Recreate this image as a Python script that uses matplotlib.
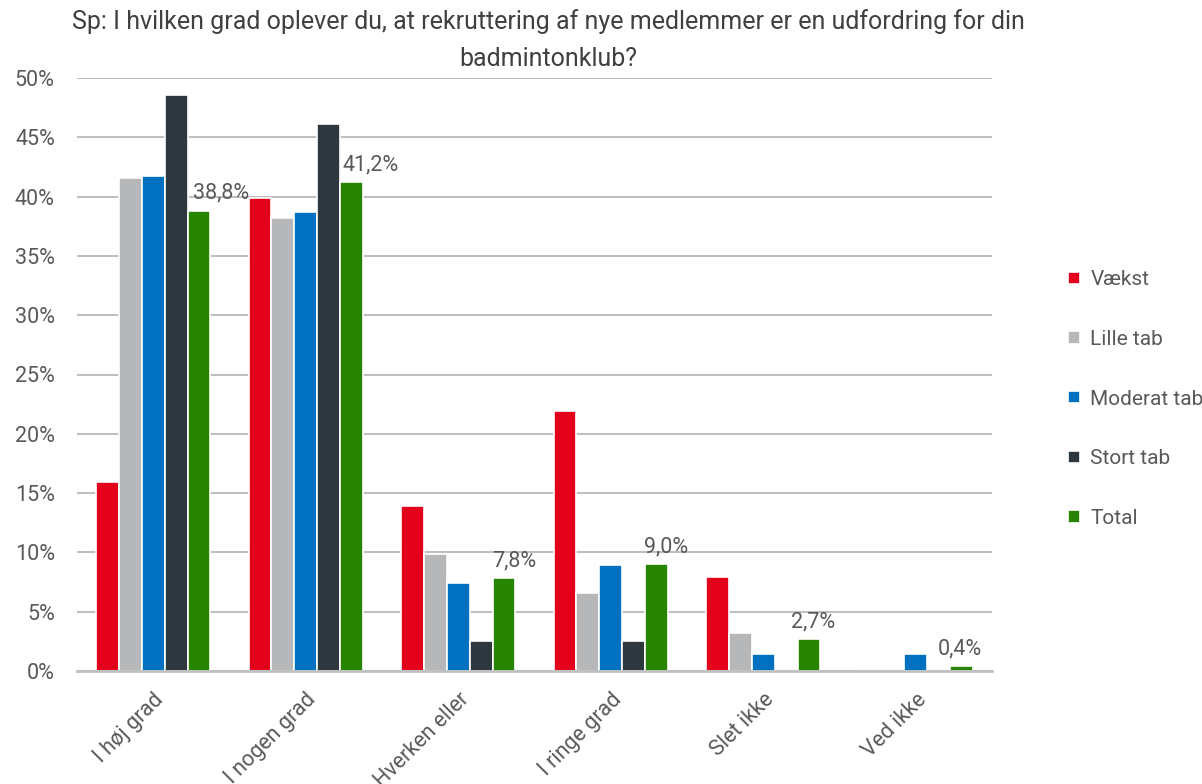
import numpy as np
import matplotlib.pyplot as plt

plt.rcParams['font.family'] = ['Roboto', 'DejaVu Sans']

# Data (percent)
categories = ["I høj grad", "I nogen grad", "Hverken eller", "I ringe grad", "Slet ikke", "Ved ikke"]
series_names = ["Vækst", "Lille tab", "Moderat tab", "Stort tab", "Total"]
vaekst = [15.9, 39.9, 13.9, 21.9, 7.9, 0.0]
lille_tab = [41.6, 38.2, 9.9, 6.6, 3.2, 0.0]
moderat_tab = [41.7, 38.7, 7.4, 8.9, 1.4, 1.4]
stort_tab = [48.6, 46.1, 2.5, 2.5, 0.0, 0.0]
total = [38.8, 41.2, 7.8, 9.0, 2.7, 0.4]
total_labels = ["38,8%", "41,2%", "7,8%", "9,0%", "2,7%", "0,4%"]

colors = ["#E2001A", "#B5B7B9", "#0070C0", "#2D373E", "#268400"]
text_col = "#595959"
# horizontal nudges (points) of the Total labels, as placed in the original
label_dx = [16, 14, 7, 7, 3, -1]

fig = plt.figure(figsize=(12.02, 7.84), dpi=100)
ax = fig.add_axes([77 / 1202, 1 - 671 / 784, (992 - 77) / 1202, (671 - 78) / 784])

x = np.arange(len(categories))
width = 0.15
all_series = [vaekst, lille_tab, moderat_tab, stort_tab, total]
bars = []
for i, (vals, name, c) in enumerate(zip(all_series, series_names, colors)):
    b = ax.bar(x + (i - 2) * width, vals, width, color=c, edgecolor="white",
               linewidth=1.2, label=name, zorder=3)
    bars.append(b)

# data labels for the Total series
for rect, lab, dx in zip(bars[-1], total_labels, label_dx):
    ax.annotate(lab, (rect.get_x() + rect.get_width() / 2, rect.get_height()),
                xytext=(dx, 5), textcoords="offset points", ha="center", va="bottom",
                fontsize=15.5, color=text_col)

ax.set_xlim(-0.5, len(categories) - 0.5)
ax.set_ylim(0, 50)
ax.set_yticks(np.arange(0, 51, 5))
ax.set_yticklabels([f"{v}%" for v in range(0, 51, 5)], fontsize=15.5, color=text_col)
ax.set_xticks(x)
ax.set_xticklabels(categories, rotation=45, ha="right", rotation_mode="anchor",
                   fontsize=15.5, color=text_col)
ax.tick_params(axis="both", length=0)
ax.tick_params(axis="y", pad=16)
ax.tick_params(axis="x", pad=13)

ax.grid(axis="y", color="#BFBFBF", linewidth=1.5, zorder=0)
for s in ["top", "right", "left"]:
    ax.spines[s].set_visible(False)
ax.spines["bottom"].set_color("#BFBFBF")
ax.spines["bottom"].set_linewidth(2)
ax.spines["bottom"].set_zorder(4)

fig.text(548 / 1202, 1 - 22 / 784,
         "Sp: I hvilken grad oplever du, at rekruttering af nye medlemmer er en udfordring for din",
         ha="center", va="center", fontsize=18, color="#404040")
fig.text(548 / 1202, 1 - 59 / 784, "badmintonklub?",
         ha="center", va="center", fontsize=18, color="#404040")

leg = fig.legend(loc="upper left", bbox_to_anchor=(1060 / 1202, 1 - 262 / 784),
                 frameon=False, fontsize=15, handlelength=0.55, handleheight=0.55,
                 handletextpad=0.5, labelspacing=1.95, borderaxespad=0)
for t in leg.get_texts():
    t.set_color(text_col)

fig.savefig("out.png", dpi=100)
